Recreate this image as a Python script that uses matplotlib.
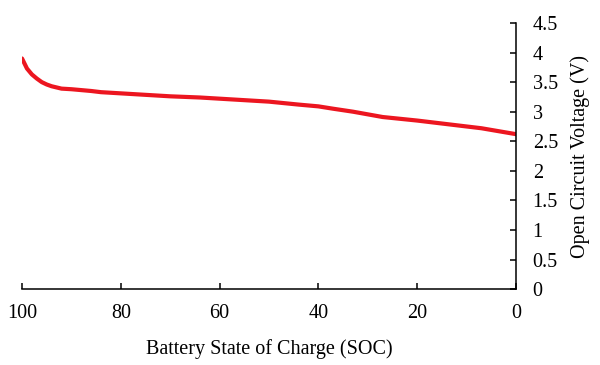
import matplotlib
matplotlib.use('Agg')
import matplotlib.pyplot as plt

params = {'font.family': 'serif',
          'font.serif': ['Liberation Serif', 'DejaVu Serif'],
          'font.size': 14.5,
          'axes.linewidth': 1.1}
matplotlib.rcParams.update(params)

# state of charge (%) and open circuit voltage (V)
soc = [100, 99, 98, 97, 96, 95, 94, 93, 92, 90, 86, 84, 80, 74, 70, 64, 60,
       54, 50, 44, 40, 37, 33, 27, 20, 17, 10, 7, 0]
ocv = [3.90, 3.73, 3.63, 3.56, 3.50, 3.46, 3.43, 3.41, 3.39, 3.38, 3.35,
       3.33, 3.31, 3.28, 3.26, 3.24, 3.22, 3.19, 3.17, 3.12, 3.09, 3.05,
       3.00, 2.91, 2.85, 2.82, 2.75, 2.72, 2.62]

xticks = [100, 80, 60, 40, 20, 0]
yticks = [0, 0.5, 1, 1.5, 2, 2.5, 3, 3.5, 4, 4.5]

fig = plt.figure(figsize=(6.0, 3.65), dpi=100)
ax = fig.add_axes([0.0367, 0.208, 0.8233, 0.729])

ax.plot(soc, ocv, color='#ec1620', lw=3.0, solid_capstyle='round')

ax.set_xlim(100, 0)
ax.set_ylim(0, 4.5)
ax.set_xticks(xticks)
ax.set_xticklabels([str(t) for t in xticks])
ax.set_yticks(yticks)
ax.set_yticklabels(['%g' % t for t in yticks])

ax.spines['top'].set_visible(False)
ax.spines['left'].set_visible(False)
ax.yaxis.tick_right()
ax.yaxis.set_label_position('right')
ax.tick_params(axis='both', direction='in', length=4.5, width=1.1)
ax.tick_params(axis='x', pad=11)
ax.tick_params(axis='y', pad=12)

ax.set_xlabel('Battery State of Charge (SOC)', labelpad=11)
ax.set_ylabel('Open Circuit Voltage (V)', labelpad=9)

plt.savefig('out.png', dpi=100)
